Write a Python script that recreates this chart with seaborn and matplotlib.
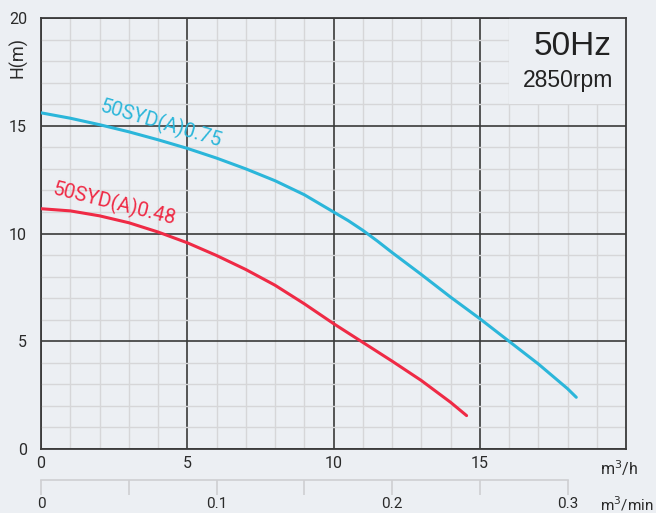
import matplotlib
matplotlib.use("Agg")
import matplotlib.pyplot as plt
import seaborn as sns
import pandas as pd
from matplotlib.ticker import MultipleLocator

# Flow (m3/h) and head (m) for each pump model
flow_075 = [0, 1, 2, 3, 4, 5, 6, 7, 8, 9, 10, 10.5, 11, 11.5, 12, 13, 14, 15, 16, 17, 18, 18.3]
head_075 = [15.6, 15.35, 15.05, 14.72, 14.35, 13.95, 13.5, 13.0, 12.45, 11.8, 11.0,
            10.6, 10.15, 9.65, 9.12, 8.1, 7.05, 6.05, 5.0, 3.95, 2.8, 2.4]
flow_048 = [0, 1, 2, 3, 4, 5, 6, 7, 8, 9, 10, 11, 12, 13, 14, 14.55]
head_048 = [11.15, 11.05, 10.82, 10.5, 10.07, 9.57, 8.98, 8.33, 7.6, 6.74, 5.82,
            4.95, 4.08, 3.18, 2.17, 1.55]
models = ["50SYD(A)0.75", "50SYD(A)0.48"]
colors = ["#2bb6da", "#ef2a45"]
x_ticks = [0, 5, 10, 15]
y_ticks = [0, 5, 10, 15, 20]
min_ticks = [0, 0.05, 0.1, 0.15, 0.2, 0.25, 0.3]
min_labels = ["0", "", "0.1", "", "0.2", "", "0.3"]

bg = "#eceff3"
df = pd.concat([
    pd.DataFrame({"Q": flow_075, "H": head_075, "model": models[0]}),
    pd.DataFrame({"Q": flow_048, "H": head_048, "model": models[1]}),
])

sns.set_style("white")
plt.rcParams["font.family"] = ["Roboto", "DejaVu Sans"]

fig = plt.figure(figsize=(6.56, 5.13), dpi=100, facecolor=bg)
ax = fig.add_axes([41 / 656, 1 - 449 / 513, 585 / 656, 431 / 513])
ax.set_facecolor(bg)

ax.set_xlim(0, 20)
ax.set_ylim(0, 20)
ax.xaxis.set_minor_locator(MultipleLocator(1))
ax.yaxis.set_minor_locator(MultipleLocator(1))
ax.set_xticks(x_ticks)
ax.set_yticks(y_ticks)
ax.grid(which="minor", color="#d6d6d8", lw=1.0, zorder=0)
ax.grid(which="major", color="#3a3a3a", lw=1.2, zorder=1)
ax.set_axisbelow(True)
for s in ax.spines.values():
    s.set_color("#3a3a3a")
    s.set_linewidth(1.3)
ax.tick_params(which="both", length=0, labelsize=11.5, colors="#2a2a2a")
ax.tick_params(axis="x", pad=5)
ax.tick_params(axis="y", pad=10)

# Cover the grid behind the speed box
ax.add_patch(plt.Rectangle((16, 16), 4, 4, facecolor=bg, edgecolor="none", zorder=1.5))

sns.lineplot(data=df, x="Q", y="H", hue="model", palette=colors, sort=False,
             lw=2.2, ax=ax, legend=False, zorder=3)
ax.set_xlabel("")
ax.set_ylabel("")

ax.text(4.1, 15.1, models[0], color=colors[0], fontsize=14.5, rotation=-16.5,
        ha="center", va="center", zorder=4)
ax.text(2.5, 11.35, models[1], color=colors[1], fontsize=14.5, rotation=-14,
        ha="center", va="center", zorder=4)

ax.text(19.52, 18.28, "50Hz", fontsize=24, family="Liberation Sans", ha="right",
        va="baseline", color="#222222", zorder=4)
ax.text(19.55, 16.8, "2850rpm", fontsize=16.5, family="Liberation Sans", ha="right",
        va="baseline", color="#222222", zorder=4)

# Secondary flow scale in m3/min
sec = ax.secondary_xaxis(-31 / 431, functions=(lambda q: q / 60, lambda q: q * 60))
sec.set_xticks(min_ticks)
sec.set_xticklabels(min_labels)
sec.spines["bottom"].set_bounds(0, 0.3)
sec.spines["bottom"].set_color("#cfcfd2")
sec.spines["bottom"].set_linewidth(1.2)
sec.tick_params(axis="x", length=11, width=1.2, color="#cfcfd2", labelsize=11,
                labelcolor="#2a2a2a", pad=1.5)

fig.text(18 / 656, 1 - 57 / 513, "H(m)", rotation=90, ha="center", va="center",
         fontsize=13, color="#2a2a2a")
fig.text(600 / 656, 1 - 468 / 513, "m$^3$/h", ha="left", va="center", fontsize=11.5,
         color="#2a2a2a")
fig.text(600 / 656, 1 - 504 / 513, "m$^3$/min", ha="left", va="center", fontsize=11,
         color="#2a2a2a")

fig.savefig("out.png", dpi=100, facecolor=bg)
